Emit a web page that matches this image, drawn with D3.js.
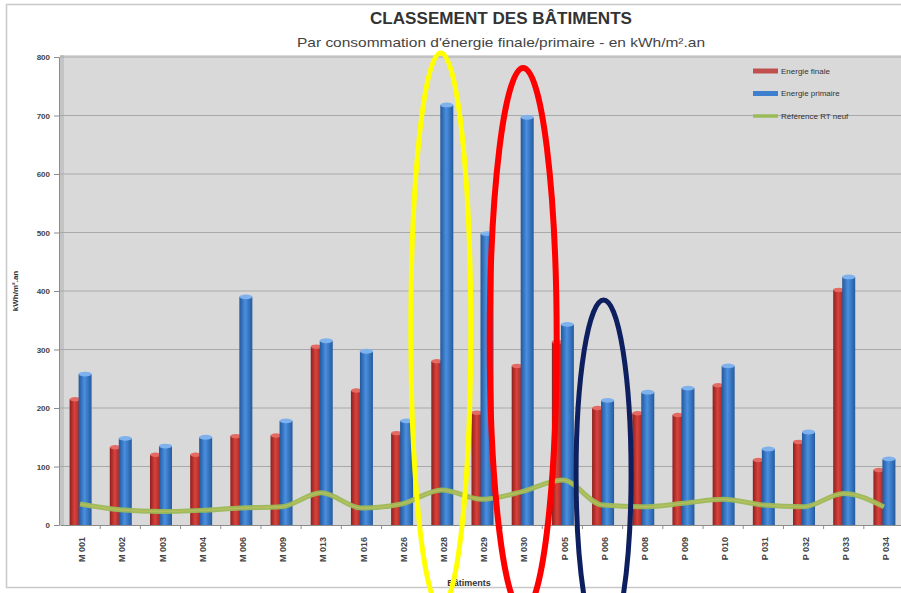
<!DOCTYPE html>
<html><head><meta charset="utf-8">
<script src="https://cdn.jsdelivr.net/npm/d3@7"></script>
<style>body{margin:0;background:#fff}svg{display:block}</style>
</head><body>
<script>
const categories = ["M 001","M 002","M 003","M 004","M 006","M 009","M 013","M 016","M 026","M 028","M 029","M 030","P 005","P 006","P 008","P 009","P 010","P 031","P 032","P 033","P 034"];
const energieFinale = [215,133,120,120,152,153,305,230,157,280,192,272,313,200,191,188,239,111,142,402,94];
const energiePrimaire = [258,148,135,150,390,178,315,297,178,718,498,697,343,213,227,234,272,130,159,424,113];
const referenceRT = [36,26,23,25,29,31,55,29,36,60,44,57,77,34,31,37,44,34,31,54,31];
const yTicks = [0,100,200,300,400,500,600,700,800];
const seriesNames = ["Energie finale","Energie primaire","Référence RT neuf"];
const highlights = [
  {cat:"M 028", color:"#ffff00"},
  {cat:"M 030", color:"#ff0000"},
  {cat:"P 006", color:"#0d1f5e"}
];

const W = 901, H = 593;
const svg = d3.select("body").append("svg").attr("width", W).attr("height", H);
const defs = svg.append("defs");
function cyl(id, c0, c1, c2){
  const g = defs.append("linearGradient").attr("id", id).attr("x1","0").attr("x2","1").attr("y1","0").attr("y2","0");
  g.append("stop").attr("offset","0%").attr("stop-color", c0);
  g.append("stop").attr("offset","45%").attr("stop-color", c1);
  g.append("stop").attr("offset","100%").attr("stop-color", c2);
}
cyl("gRed", "#8e1f1c", "#d8423c", "#9a2522");
cyl("gBlue", "#24579a", "#4a8fe0", "#245a9e");

// outer frame
svg.append("rect").attr("x",6.5).attr("y",4.5).attr("width",W).attr("height",583).attr("fill","#fff").attr("stroke","#c8c8c8").attr("stroke-width",1.5);

const plotL = 60, plotR = 904, plotT = 57, plotB = 525;
const x = d3.scaleBand().domain(categories).range([plotL, plotR]);
const y = d3.scaleLinear().domain([0,800]).range([plotB, plotT]);

// plot background
svg.append("rect").attr("x",plotL).attr("y",plotT-2).attr("width",plotR-plotL).attr("height",plotB-plotT+2).attr("fill","#d9d9d9");
svg.append("rect").attr("x",plotL).attr("y",plotT-2).attr("width",4).attr("height",plotB-plotT+2).attr("fill","#c4c4c4");

// gridlines
svg.append("g").selectAll("line").data(yTicks.slice(1)).join("line")
  .attr("x1",plotL).attr("x2",plotR).attr("y1",d=>y(d)).attr("y2",d=>y(d))
  .attr("stroke","#a9a9a9").attr("stroke-width",1.2);

// y axis
const yAxis = svg.append("g").attr("transform",`translate(${plotL-1},0)`)
  .call(d3.axisLeft(y).tickValues(yTicks).tickSize(5).tickPadding(4));
yAxis.select(".domain").attr("stroke","#8c8c8c");
yAxis.selectAll(".tick line").attr("stroke","#8c8c8c");
yAxis.selectAll("text").attr("font-family","Liberation Sans Narrow, Liberation Sans, sans-serif").attr("font-size",8).attr("font-weight","bold").attr("fill","#444");

// x axis
const xAxis = svg.append("g").attr("transform",`translate(0,${plotB})`)
  .call(d3.axisBottom(x).tickSize(0).tickPadding(0));
xAxis.select(".domain").attr("stroke","#8c8c8c");
xAxis.selectAll("text").attr("font-family","Liberation Sans Narrow, Liberation Sans, sans-serif").attr("font-size",9).attr("font-weight","bold").attr("fill","#444")
  .attr("transform","translate(2,12) rotate(-90)").attr("text-anchor","end").attr("dy","0.35em").attr("y",0);
svg.append("g").selectAll("line").data(categories).join("line")
  .attr("x1",d=>x(d)+x.bandwidth()).attr("x2",d=>x(d)+x.bandwidth())
  .attr("y1",plotB).attr("y2",plotB+4).attr("stroke","#8c8c8c");

// bars
const bw1 = 11, bw2 = 13;
const gb = svg.append("g");
categories.forEach((c,i)=>{
  const cx = x(c) + x.bandwidth()/2;
  const rx = cx - 10.5, bx = cx - 1.5;
  const ry = y(energieFinale[i]), by = y(energiePrimaire[i]);
  gb.append("rect").attr("x",rx).attr("y",ry).attr("width",bw1).attr("height",plotB-ry).attr("fill","url(#gRed)");
  gb.append("ellipse").attr("cx",rx+bw1/2).attr("cy",ry).attr("rx",bw1/2).attr("ry",2.2).attr("fill","#e46a64");
  gb.append("rect").attr("x",bx).attr("y",by).attr("width",bw2).attr("height",plotB-by).attr("fill","url(#gBlue)");
  gb.append("ellipse").attr("cx",bx+bw2/2).attr("cy",by).attr("rx",bw2/2).attr("ry",2.4).attr("fill","#7fb2ec");
});

// reference line
const line = d3.line().x((d,i)=>x(categories[i])+x.bandwidth()/2).y(d=>y(d)).curve(d3.curveMonotoneX);
svg.append("path").datum(referenceRT).attr("d",line).attr("fill","none").attr("stroke","#9bbb59").attr("stroke-width",5).attr("stroke-opacity",0.95);
svg.append("path").datum(referenceRT).attr("d",line).attr("fill","none").attr("stroke","#c9c25a").attr("stroke-width",1.5).attr("stroke-opacity",0.6);

// legend
const legColors = ["#c0504d","#3f7fcf","#9bbb59"];
const leg = svg.append("g");
seriesNames.forEach((n,i)=>{
  const ly = 71 + i*22.5;
  leg.append("line").attr("x1",753).attr("x2",778).attr("y1",ly).attr("y2",ly).attr("stroke",legColors[i]).attr("stroke-width",i==2?3.5:5);
  leg.append("text").attr("x",781).attr("y",ly).attr("dy","0.35em").text(n)
    .attr("font-family","Liberation Sans Narrow, Liberation Sans, sans-serif").attr("font-size",8).attr("fill","#333");
});

// titles
svg.append("text").attr("x",501).attr("y",24).attr("text-anchor","middle").text("CLASSEMENT DES BÂTIMENTS")
  .attr("font-family","Liberation Sans Narrow, Liberation Sans, sans-serif").attr("font-weight","bold").attr("font-size",17).attr("fill","#333")
  .attr("textLength",262).attr("lengthAdjust","spacingAndGlyphs");
svg.append("text").attr("x",501).attr("y",47).attr("text-anchor","middle").text("Par consommation d'énergie finale/primaire - en kWh/m².an")
  .attr("font-family","Liberation Sans Narrow, Liberation Sans, sans-serif").attr("font-size",13).attr("fill","#444")
  .attr("textLength",408).attr("lengthAdjust","spacingAndGlyphs");
svg.append("text").attr("transform","translate(18,291) rotate(-90)").attr("text-anchor","middle").text("kWh/m².an")
  .attr("font-family","Liberation Sans Narrow, Liberation Sans, sans-serif").attr("font-weight","bold").attr("font-size",8).attr("fill","#333");
svg.append("text").attr("x",469).attr("y",586).attr("text-anchor","middle").text("Bâtiments")
  .attr("font-family","Liberation Sans Narrow, Liberation Sans, sans-serif").attr("font-weight","bold").attr("font-size",9).attr("fill","#333");

// highlight ellipses
const ell = [{rx:30, cy:330, ry:277, sw:5},{rx:33.5, cy:340, ry:272, sw:6},{rx:27.5, cy:474, ry:174, sw:5}];
highlights.forEach((h,i)=>{
  const cx = x(h.cat) + x.bandwidth()/2 + (i==0?-1:(i==1?1:1));
  svg.append("ellipse").attr("cx",cx).attr("cy",ell[i].cy).attr("rx",ell[i].rx).attr("ry",ell[i].ry)
    .attr("fill","none").attr("stroke",h.color).attr("stroke-width",ell[i].sw);
});
</script>
</body></html>
